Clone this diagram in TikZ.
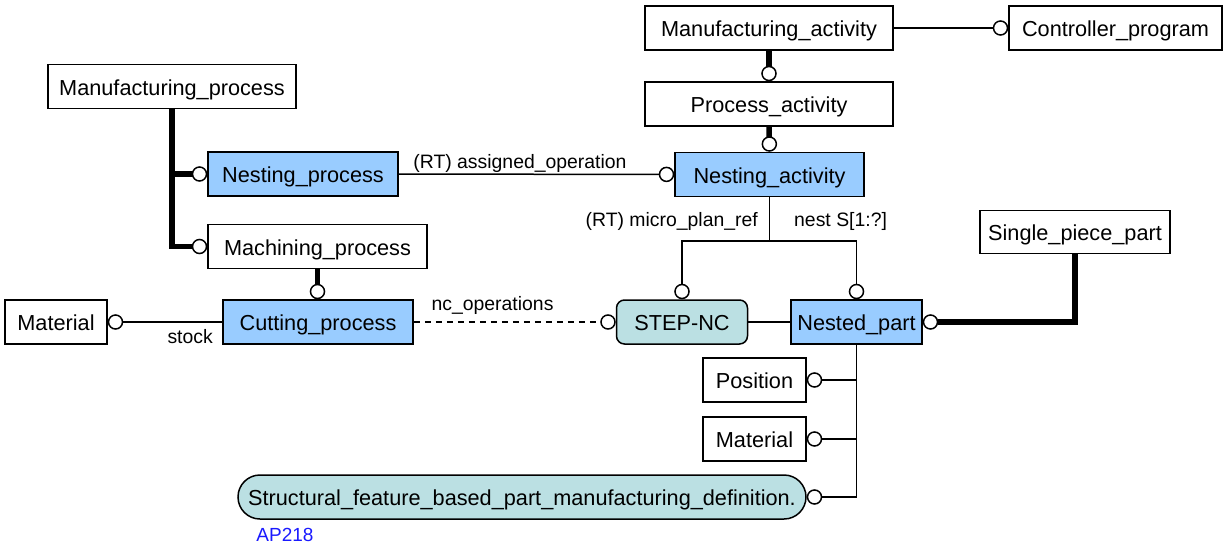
\documentclass[tikz,border=0pt]{standalone}
\usepackage{fontspec}
\setmainfont{Liberation Sans}
\usetikzlibrary{arrows.meta}
\definecolor{entblue}{RGB}{153,204,255}
\definecolor{teal2}{RGB}{187,224,227}
\definecolor{apblue}{RGB}{26,26,255}
\tikzset{
  ent/.style={draw=black, line width=1.5pt, fill=white, inner sep=0pt, minimum height=44pt,
    text height=20pt, text depth=3pt, font=\fontsize{21.7}{26}\selectfont},
  blueent/.style={ent, fill=entblue},
  tealent/.style={ent, fill=teal2, rounded corners=8pt},
  pill/.style={ent, fill=teal2, rounded corners=22pt},
  lbl/.style={inner sep=0pt, font=\fontsize{19.4}{23}\selectfont},
  ocirc/.tip={Circle[open, length=15.5pt, width=15.5pt, line width=1.5pt 0]},
  rel/.style={line width=1.5pt, -ocirc},
  sub/.style={line width=5.5pt, -ocirc},
}
\begin{document}
\begin{tikzpicture}[x=1pt,y=-1pt]
\useasboundingbox (0,0) rectangle (1225,546);
% entities
\node[ent, minimum width=248pt] (ma) at (769,28) {Manufacturing\_activity};
\node[ent, minimum width=213pt] (cp) at (1115.5,28) {Controller\_program};
\node[ent, minimum width=248pt] (pa) at (769,104) {Process\_activity};
\node[blueent, minimum width=189pt] (na) at (769.5,174.5) {Nesting\_activity};
\node[ent, minimum width=248pt] (mp) at (172,86.5) {Manufacturing\_process};
\node[blueent, minimum width=190pt] (nproc) at (303,174) {Nesting\_process};
\node[ent, minimum width=219pt] (mach) at (317.5,246.5) {Machining\_process};
\node[blueent, minimum width=190pt] (cut) at (318,322) {Cutting\_process};
\node[ent, minimum width=102pt] (matL) at (56,322) {Material};
\node[tealent, minimum width=131pt] (step) at (682,322) {STEP-NC};
\node[blueent, minimum width=131pt] (nest) at (856.5,322) {Nested\_part};
\node[ent, minimum width=190pt, minimum height=43pt] (spp) at (1075,232) {Single\_piece\_part};
\node[ent, minimum width=103pt] (pos) at (754.5,380) {Position};
\node[ent, minimum width=103pt] (matR) at (754.5,439) {Material};
\node[pill, minimum width=568pt] (sf) at (522,497) {Structural\_feature\_based\_part\_manufacturing\_definition.};
\node[lbl, text=apblue, font=\fontsize{19}{23}\selectfont] (ap) at (285,535) {AP218};
% connectors
\draw[rel] (ma) -- (cp);
\draw[sub] (ma.south) -- (pa.north);
\draw[sub] (pa.south) -- (na.north);
\draw[rel] (nproc) -- node[lbl, pos=0.44, anchor=base, yshift=6pt] (lao) {(RT) assigned\_operation} (na);
\draw[sub] (mp.south) |- (mach.west);
\draw[sub] (mp.south |- nproc.west) -- (nproc.west);
\draw[sub] (mach.south) -- (mach.south |- cut.north);
\draw[rel] (cut) -- (matL);
\node[lbl, anchor=base east] (lstock) at (213,343) {stock};
\draw[rel, dash pattern=on 6pt off 5pt] (cut) -- node[lbl, pos=0.39, anchor=base, yshift=12pt] (lnc) {nc\_operations} (step);
\draw[line width=1.5pt] (step) -- (nest);
\coordinate (br) at (769.5,241);
\draw[line width=1.5pt] (na.south) -- (br);
\draw[rel] (br) -| (step.north);
\draw[rel] (br) -| (nest.north);
\node[lbl, anchor=east] (lmp) at (758,221) {(RT) micro\_plan\_ref};
\node[lbl, anchor=west] (lnest) at (794,221) {nest S[1:?]};
\draw[sub] (spp.south) |- (nest.east);
\draw[rel] (nest.south) |- (sf.east);
\draw[rel] (nest.south |- pos.east) -- (pos.east);
\draw[rel] (nest.south |- matR.east) -- (matR.east);
\end{tikzpicture}
\end{document}
